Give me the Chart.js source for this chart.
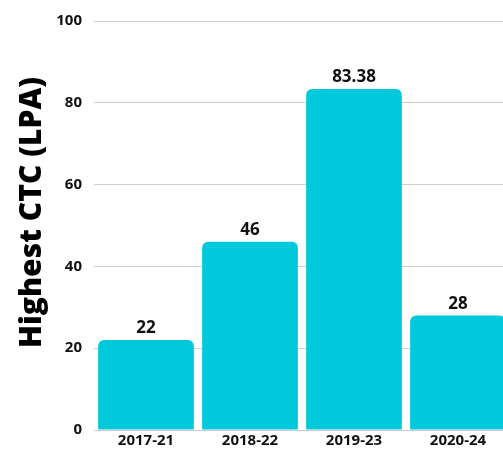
<!DOCTYPE html>
<html>
<head>
<meta charset="utf-8">
<script src="https://cdn.jsdelivr.net/npm/chart.js@4.4.1/dist/chart.umd.min.js"></script>
<style>
  html, body { margin: 0; padding: 0; background: #fff; overflow: hidden; }
  #wrap { width: 512px; height: 453px; }
</style>
</head>
<body>
<div id="wrap"><canvas id="ctcChart"></canvas></div>
<script>
const batches = ['2017-21', '2018-22', '2019-23', '2020-24'];
const highestCtc = [22, 46, 83.38, 28];
const yTicks = [0, 20, 40, 60, 80, 100];
const yTitle = 'Highest CTC (LPA)';

const FONT = "'Open Sans', sans-serif";

// draws the value above each bar
const valueLabels = {
  id: 'valueLabels',
  afterDatasetsDraw(chart) {
    const ctx = chart.ctx;
    const meta = chart.getDatasetMeta(0);
    ctx.save();
    ctx.font = '700 17px ' + FONT;
    ctx.fillStyle = '#111';
    ctx.textAlign = 'center';
    ctx.textBaseline = 'bottom';
    meta.data.forEach((bar, i) => {
      ctx.fillText(String(highestCtc[i]), bar.x, bar.y - 3);
    });
    ctx.restore();
  }
};

// y title sits a bit above the middle of the plot in the original
const sideTitle = {
  id: 'sideTitle',
  afterDraw(chart) {
    const ctx = chart.ctx;
    const area = chart.chartArea;
    ctx.save();
    ctx.translate(32, (area.top + area.bottom) / 2 - 13);
    ctx.rotate(-Math.PI / 2);
    ctx.font = '800 30px ' + FONT;
    ctx.fillStyle = '#000';
    ctx.textAlign = 'center';
    ctx.textBaseline = 'middle';
    ctx.fillText(yTitle, 0, 0);
    ctx.restore();
  }
};

const ctx = document.getElementById('ctcChart').getContext('2d');
new Chart(ctx, {
  type: 'bar',
  data: {
    labels: batches,
    datasets: [{
      data: highestCtc,
      backgroundColor: '#00C9DB',
      borderRadius: 6,
      borderSkipped: 'bottom',
      barPercentage: 0.92,
      categoryPercentage: 1.0
    }]
  },
  options: {
    responsive: true,
    maintainAspectRatio: false,
    animation: false,
    layout: { padding: { top: 4, right: 2, left: 0, bottom: 1 } },
    plugins: {
      legend: { display: false },
      tooltip: { enabled: false }
    },
    scales: {
      y: {
        min: 0,
        max: 100,
        afterBuildTicks: scale => { scale.ticks = yTicks.map(v => ({ value: v })); },
        afterFit: scale => { scale.width = 94; },
        ticks: {
          color: '#111',
          padding: 12,
          font: { family: FONT, size: 15, weight: '700' }
        },
        grid: { color: '#cfcfcf', drawTicks: false },
        border: { display: false }
      },
      x: {
        ticks: {
          color: '#111',
          padding: 2,
          font: { family: FONT, size: 15, weight: '700' }
        },
        grid: { display: false, drawTicks: false },
        border: { color: '#cfcfcf' }
      }
    }
  },
  plugins: [valueLabels, sideTitle]
});
</script>
</body>
</html>
